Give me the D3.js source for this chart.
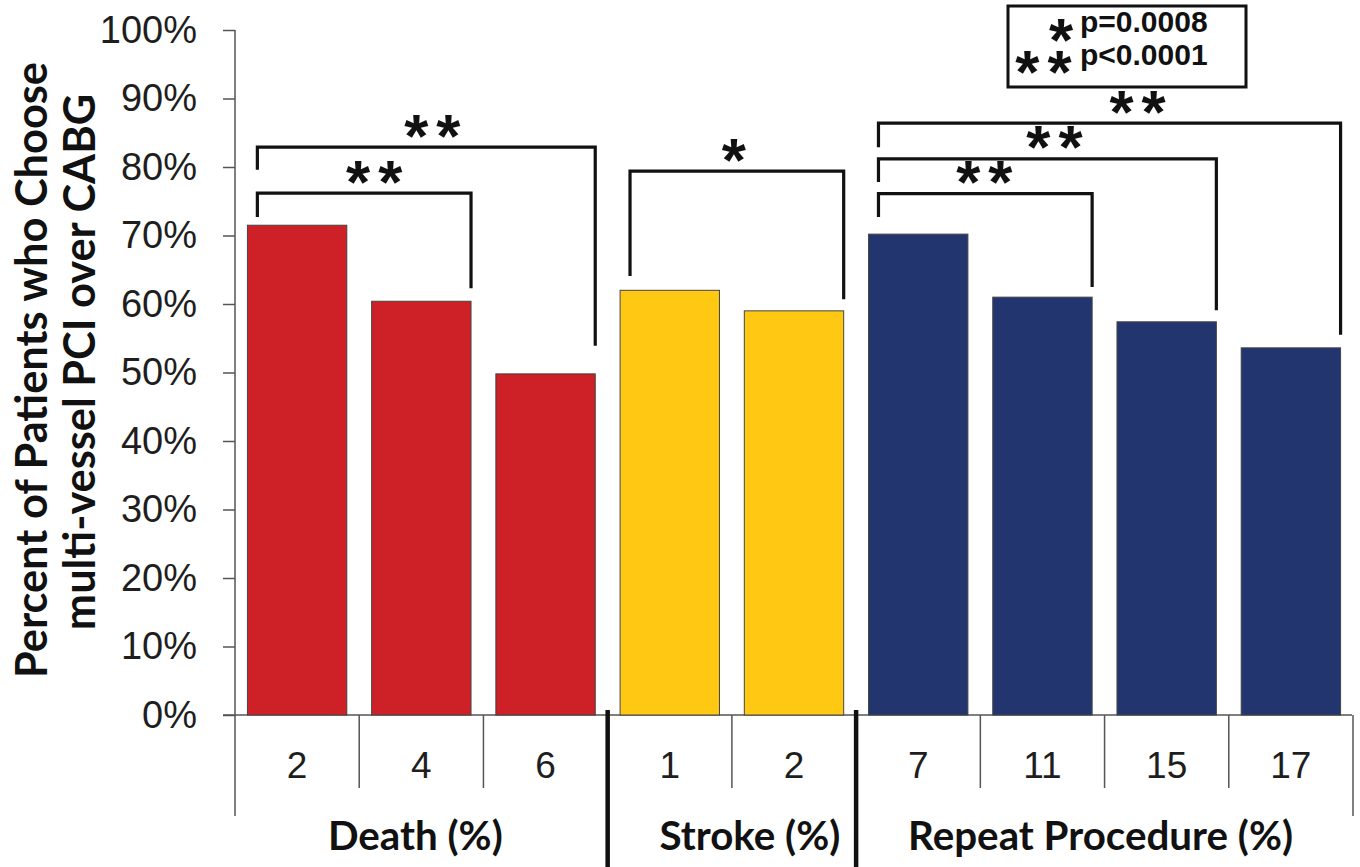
<!DOCTYPE html>
<html><head><meta charset="utf-8">
<script src="https://cdn.jsdelivr.net/npm/d3@7"></script>
<style>body{margin:0;background:#fff;} svg{display:block;}</style>
</head><body>
<svg id="c" width="1360" height="867"></svg>
<script>
const categories = ["2","4","6","1","2","7","11","15","17"];
const groupNames = ["Death (%)","Stroke (%)","Repeat Procedure (%)"];
const groupOf = [0,0,0,1,1,2,2,2,2];
const values = [71.5,60.4,49.8,62.0,59.0,70.2,61.0,57.4,53.6];
const groupColors = ["#cd2027","#fec813","#22356f"];
const yTicks = [0,10,20,30,40,50,60,70,80,90,100];
const yTitle = ["Percent of Patients who Choose","multi-vessel PCI over CABG"];
const bracketFrom = [0,0,3,5,5,5];
const bracketTo   = [1,2,4,6,7,8];
const bracketTop  = [76.2,82.9,79.4,76.1,81.2,86.4];
const bracketLeftEnd  = [72.7,79.6,64.1,72.7,77.8,82.9];
const bracketRightEnd = [62.3,53.9,60.7,62.5,59.1,55.5];
const bracketMarks = ["**","**","*","**","**","**"];
const legendMarks = ["*","**"];
const legendTexts = ["p=0.0008","p<0.0001"];

const svg = d3.select("#c");
const x = d3.scaleBand().domain(d3.range(categories.length)).range([235,1353]).paddingInner(0.2).paddingOuter(0.1);
const y = d3.scaleLinear().domain([0,100]).range([715,30]);
const bw = x.bandwidth(), step = x.step();
const edge = i => x(i) - x.paddingInner()*step/2; // slot left boundary
const ink = "#111";

// y axis
const yAxis = d3.axisLeft(y).tickValues(yTicks).tickFormat(d=>d+"%").tickSize(12).tickPadding(26);
const ya = svg.append("g").attr("transform","translate(235,0)").call(yAxis);
ya.select(".domain").remove();
ya.selectAll(".tick line").attr("stroke","#555").attr("stroke-width",1.5);
ya.selectAll(".tick text").attr("font-family","Liberation Sans, Arial, sans-serif").attr("font-size",38).attr("fill","#1e1e1e");
svg.append("line").attr("x1",235).attr("x2",235).attr("y1",y(100)).attr("y2",816).attr("stroke","#555").attr("stroke-width",1.5);

// baseline
svg.append("line").attr("x1",223).attr("x2",1352).attr("y1",y(0)).attr("y2",y(0)).attr("stroke","#555").attr("stroke-width",1.5);

// bars
svg.append("g").selectAll("rect").data(values).join("rect")
  .attr("x",(d,i)=>x(i)).attr("width",bw)
  .attr("y",d=>y(d)).attr("height",d=>y(0)-y(d))
  .attr("fill",(d,i)=>groupColors[groupOf[i]])
  .attr("stroke","#444").attr("stroke-width",1);

// category separators below axis
const nCat = categories.length;
for (let i=1;i<nCat;i++){
  const bx = edge(i);
  if (groupOf[i]!==groupOf[i-1]){
    svg.append("line").attr("x1",bx).attr("x2",bx).attr("y1",710).attr("y2",867).attr("stroke",ink).attr("stroke-width",4.5);
  } else {
    svg.append("line").attr("x1",bx).attr("x2",bx).attr("y1",y(0)).attr("y2",788).attr("stroke","#555").attr("stroke-width",1.5);
  }
}
const rightEdge = edge(nCat-1)+step;
svg.append("line").attr("x1",rightEdge).attr("x2",rightEdge).attr("y1",y(0)).attr("y2",816).attr("stroke","#555").attr("stroke-width",1.5);

// category labels
svg.append("g").selectAll("text").data(categories).join("text")
  .attr("x",(d,i)=>x(i)+bw/2).attr("y",778).attr("text-anchor","middle")
  .attr("font-family","Liberation Sans, Arial, sans-serif").attr("font-size",37).attr("fill","#1e1e1e")
  .text(d=>d);

// group labels
const gl = svg.append("g").selectAll("text").data(groupNames).join("text")
  .attr("x",(d,g)=>{
    const idx = d3.range(nCat).filter(i=>groupOf[i]===g);
    const c = (edge(idx[0]) + edge(idx[idx.length-1])+step)/2;
    return c + (g===1?18:(g===0?-6:-4));
  })
  .attr("y",850).attr("text-anchor","middle")
  .attr("font-family","Lato, sans-serif").attr("font-weight","bold").attr("font-size",38).attr("fill",ink)
  .text(d=>d);
{
  const n = gl.nodes()[2];
  const w = n.getComputedTextLength();
  gl.attr("font-size",38*385/w);
}

// y title
const yt = svg.append("g").selectAll("text").data(yTitle).join("text")
  .attr("transform",(d,i)=>`translate(${i===0?47:95},${i===0?370:362}) rotate(-90)`)
  .attr("text-anchor","middle")
  .attr("font-family","Lato, sans-serif").attr("font-weight","bold").attr("font-size",38).attr("fill",ink)
  .text(d=>d);
{
  const n = yt.nodes()[0];
  const w = n.getComputedTextLength();
  yt.attr("font-size",38*616/w);
}

// star marks: centred on their ink
const starFont = "Liberation Sans, Arial, sans-serif";
const starSize = 62, starGap = 8;
function star(cx, cy, s){
  return svg.append("text").attr("x",cx + starGap/2).attr("y",cy + 0.47*starSize)
    .attr("text-anchor","middle").attr("font-family",starFont).attr("font-weight","bold")
    .attr("font-size",starSize).attr("letter-spacing",starGap).attr("fill",ink).text(s);
}

// brackets
const starDx = [10,6,-3,-1,7,28];
bracketFrom.forEach((f,k)=>{
  const t = bracketTo[k];
  const lx = x(f)+0.1*bw, rx = x(t)+bw;
  const ty = y(bracketTop[k]);
  svg.append("path")
    .attr("d",`M${lx},${y(bracketLeftEnd[k])}V${ty}H${rx}V${y(bracketRightEnd[k])}`)
    .attr("fill","none").attr("stroke",ink).attr("stroke-width",3.2);
  star((lx+rx)/2 + starDx[k], ty-19.5, bracketMarks[k]);
});

// legend box
svg.append("rect").attr("x",1008).attr("y",6).attr("width",238).attr("height",81)
  .attr("fill","#fff").attr("stroke",ink).attr("stroke-width",3);
legendTexts.forEach((t,i)=>{
  const by = i===0?32:65;
  svg.append("text").attr("x",1080).attr("y",by).attr("font-family",starFont).attr("font-weight","bold")
    .attr("font-size",30).attr("fill",ink).text(t);
});
star(1061, 32, legendMarks[0]);
star(1043.5, 64, legendMarks[1]);
</script>
</body></html>
